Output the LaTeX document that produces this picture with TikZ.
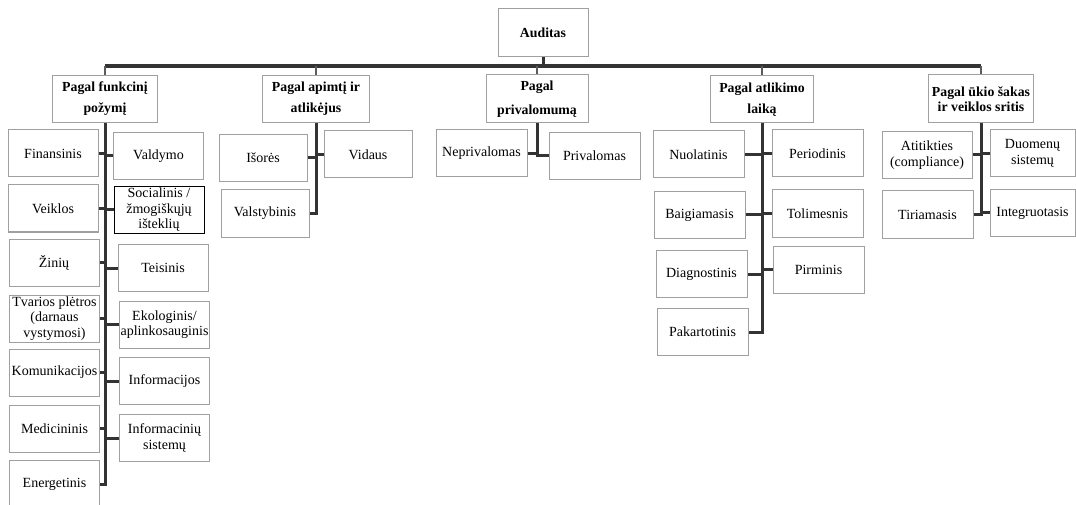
\documentclass[tikz,border=0pt]{standalone}
\usepackage{fontspec}
\setmainfont{Liberation Serif}
\usepackage{xcolor}
\usepackage{tikz}
\usetikzlibrary{positioning}

\definecolor{linedark}{HTML}{333333}
\definecolor{boxline}{HTML}{A0A0A0}

\begin{document}
\begin{tikzpicture}[x=1pt,y=-1pt,
  box/.style={draw=boxline,line width=1pt,fill=white,align=center,inner sep=1pt,
    minimum width=90pt,minimum height=47pt,font=\fontsize{14}{15.5}\selectfont},
  hdr/.style={box,minimum width=105pt,font=\fontsize{13.8}{21}\selectfont\bfseries},
  bus/.style={draw=linedark,line width=3.6pt},
  trunk/.style={draw=linedark,line width=3pt},
  drop/.style={draw=linedark!80,line width=2.2pt}]
\useasboundingbox (0,0) rectangle (1076,505);

% top
\node[box,font=\fontsize{13.8}{15.5}\selectfont\bfseries,minimum height=48pt] (aud) at (543,33) {Auditas};
\coordinate (busl) at (105,66);
\node[hdr] (funk) at (105,99) {Pagal funkcinį\\požymį};
\node[hdr,minimum width=107pt] (apim) at (316,99) {Pagal apimtį ir\\atlikėjus};
\node[hdr,minimum width=102pt,minimum height=48pt,font=\fontsize{13.8}{24}\selectfont\bfseries] (prv) at (537,99) {Pagal\\privalomumą};
\node[hdr,minimum width=103pt] (atl) at (762,99.5) {Pagal atlikimo\\laiką};
\node[hdr,minimum height=48pt,font=\fontsize{13.8}{15}\selectfont\bfseries] (uk) at (981,99) {Pagal ūkio šakas\\ir veiklos sritis};

\draw[bus] (busl) -- (busl -| uk.north);
\draw[trunk] (aud.south) -- (aud.south |- busl);
\foreach \h in {funk,apim,prv,atl,uk}
  \draw[drop] (\h.north) -- (\h.north |- busl);

% pagal funkcini pozymi
\node[box] (fin) at (53,153.5) {Finansinis};
\node[box] (vei) at (53,208.5) {Veiklos};
\node[box] (zin) at (54,262.5) {Žinių};
\node[box] (tva) at (54.5,318.5) {Tvarios plėtros\\(darnaus\\vystymosi)};
\node[box] (kom) at (54.5,372.5) {Komunikacijos};
\node[box] (med) at (54.5,428.5) {Medicininis};
\node[box,minimum height=48pt] (ene) at (54.5,484) {Energetinis};
\node[box] (val) at (158.5,156) {Valdymo};
\node[box,draw=black] (soc) at (159,210) {Socialinis /\\žmogiškųjų\\išteklių};
\node[box] (tei) at (163,268) {Teisinis};
\node[box] (eko) at (164.5,324.5) {Ekologinis/\\aplinkosauginis};
\node[box] (inf) at (164.5,381) {Informacijos};
\node[box] (ins) at (164.5,438) {Informacinių\\sistemų};
\draw[trunk] (funk.south) -- (funk.south |- ene.east) -- (ene.east);
\foreach \n in {fin,vei,zin,tva,kom,med}
  \draw[trunk] (\n.east) -- (\n.east -| funk.south);
\foreach \n in {val,soc,tei,eko,inf,ins}
  \draw[trunk] (\n.west) -- (\n.west -| funk.south);

% pagal apimti ir atlikejus
\node[box,minimum width=88pt] (isor) at (263,158) {Išorės};
\node[box,minimum width=88pt] (vals) at (265,213.5) {Valstybinis};
\node[box,minimum width=88pt] (vid) at (368,154.5) {Vidaus};
\draw[trunk] (apim.south) -- (apim.south |- vals.east) -- (vals.east);
\draw[trunk] (isor.east) -- (isor.east -| apim.south);
\draw[trunk] (vid.west) -- (vid.west -| apim.south);

% pagal privalomuma
\node[box,minimum width=91pt] (nepr) at (481.5,153.5) {Neprivalomas};
\node[box,minimum width=91pt] (priv) at (594.5,156) {Privalomas};
\draw[trunk] (prv.south) -- (prv.south |- priv.west) -- (priv.west);
\draw[trunk] (nepr.east) -- (nepr.east -| prv.south);

% pagal atlikimo laika
\node[box,minimum width=91pt] (nuol) at (698.5,154.5) {Nuolatinis};
\node[box,minimum width=91pt] (baig) at (699.5,215) {Baigiamasis};
\node[box,minimum width=91pt] (diag) at (701.5,274) {Diagnostinis};
\node[box,minimum width=91pt] (pakar) at (702.5,332) {Pakartotinis};
\node[box,minimum width=91pt] (peri) at (817.5,153.5) {Periodinis};
\node[box,minimum width=91pt] (toli) at (817.5,213.5) {Tolimesnis};
\node[box,minimum width=91pt] (pirm) at (818.5,269.5) {Pirminis};
\draw[trunk] (atl.south) -- (atl.south |- pakar.east) -- (pakar.east);
\foreach \n in {nuol,baig,diag}
  \draw[trunk] (\n.east) -- (\n.east -| atl.south);
\foreach \n in {peri,toli,pirm}
  \draw[trunk] (\n.west) -- (\n.west -| atl.south);

% pagal ukio sakas ir veiklos sritis
\node[box] (atit) at (927,155) {Atitikties\\(compliance)};
\node[box,minimum width=91pt] (tiri) at (927.5,214.5) {Tiriamasis};
\node[box,minimum width=85pt] (duom) at (1032.5,153.5) {Duomenų\\sistemų};
\node[box,minimum width=85pt] (integ) at (1032.5,213) {Integruotasis};
\draw[trunk] (uk.south) -- (uk.south |- tiri.east) -- (tiri.east);
\draw[trunk] (atit.east) -- (atit.east -| uk.south);
\foreach \n in {duom,integ}
  \draw[trunk] (\n.west) -- (\n.west -| uk.south);
\end{tikzpicture}
\end{document}
